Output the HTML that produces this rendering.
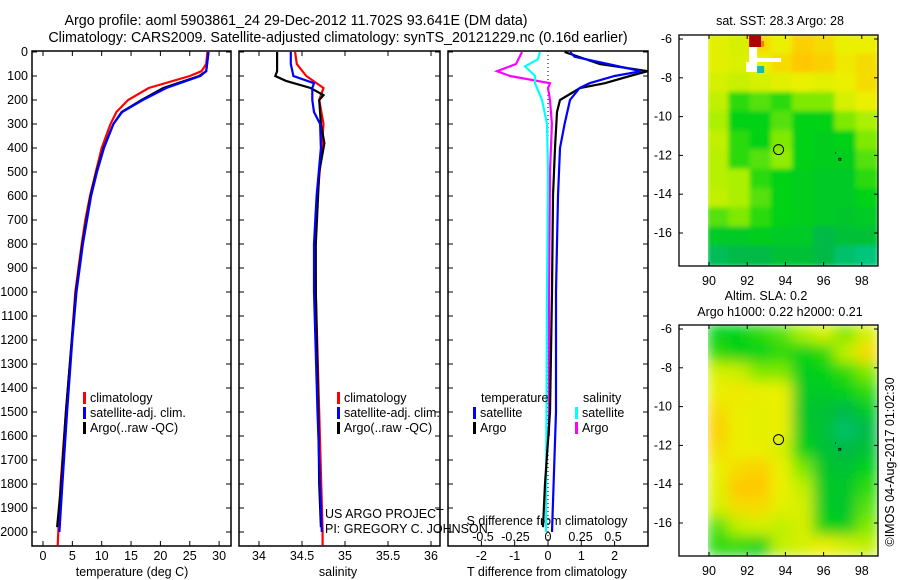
<!DOCTYPE html>
<html><head><meta charset="utf-8"><style>
body{margin:0;background:#fff;width:900px;height:580px;overflow:hidden}
svg{display:block;font-family:"Liberation Sans",sans-serif}
text{font-size:12.5px;fill:#000}
</style></head><body>
<svg id="s" width="900" height="580" viewBox="0 0 900 580">
<defs>
<filter id="bl" x="0" y="0" width="1" height="1"><feGaussianBlur stdDeviation="2.5"/></filter>
<filter id="bl2" x="0" y="0" width="1" height="1"><feGaussianBlur stdDeviation="7"/></filter>
<clipPath id="c1"><rect x="708" y="35" width="170" height="231"/></clipPath>
<clipPath id="c2"><rect x="708" y="325" width="170" height="231"/></clipPath>
</defs>
<text x="296" y="25" text-anchor="middle" style="font-size:14.3px">Argo profile: aoml 5903861_24 29-Dec-2012 11.702S 93.641E (DM data)</text>
<text x="338" y="42" text-anchor="middle" style="font-size:14.3px">Climatology: CARS2009. Satellite-adjusted climatology: synTS_20121229.nc (0.16d earlier)</text>
<g id="g"></g>
</svg>
<script>
const depthTicks=[0,100,200,300,400,500,600,700,800,900,1000,1100,1200,1300,1400,1500,1600,1700,1800,1900,2000];
const tTicks=[0,5,10,15,20,25,30];
const sTicks=[34,34.5,35,35.5,36];
const sTickLabels=["34","34.5","35","35.5","36"];
const dTTicks=[-2,-1,0,1,2];
const dSTicks=[-0.5,-0.25,0,0.25,0.5];
const dSTickLabels=["-0.5","-0.25","0","0.25","0.5"];
// temperature profiles
const climTD=[0,50,80,100,150,200,250,300,400,500,600,700,800,1000,1200,1500,1800,2000,2055];
const climT=[28,27.8,27,25,18,14.5,12.5,11.5,10,9,8,7.2,6.6,5.5,4.9,3.9,3.0,2.6,2.5];
const satTD=[0,80,100,150,200,250,300,400,500,600,800,1000,1200,1500,1800,2000];
const satT=[28.2,27.8,26.8,21,17,13.5,12,10.4,9.2,8.2,6.8,5.7,5.0,4.1,3.3,2.8];
const argoTD=[0,80,100,150,200,250,300,400,500,600,800,1000,1200,1500,1800,1980];
const argoT=[28.2,27.8,26.6,20.5,16.8,13.4,12,10.3,9.1,8.1,6.7,5.6,4.9,3.9,3.1,2.4];
// salinity profiles
const climSD=[0,50,100,150,200,300,400,600,800,1000,1500,2000,2055];
const climS=[34.42,34.44,34.55,34.75,34.7,34.75,34.73,34.68,34.65,34.66,34.7,34.74,34.74];
const satSD=[0,50,100,130,150,200,250,300,400,600,800,1000,1500,2000];
const satS=[34.37,34.37,34.4,34.64,34.62,34.62,34.64,34.71,34.72,34.67,34.64,34.64,34.68,34.73];
const argoSD=[0,80,100,120,150,180,200,300,380,500,800,1000,1500,1800,1980];
const argoS=[34.21,34.21,34.19,34.31,34.6,34.75,34.7,34.72,34.76,34.7,34.66,34.66,34.69,34.7,34.72];
// difference profiles
const dTsatD=[0,20,50,80,100,130,150,200,300,400,600,1000,1500,2000];
const dTsat=[0.66,0.8,1.8,2.8,2.0,1.25,0.95,0.66,0.5,0.36,0.3,0.24,0.24,0.12];
const dTargoD=[0,50,80,100,130,150,200,250,400,600,1000,1500,1800,1980];
const dTargo=[0.5,1.56,3.0,2.46,1.71,0.96,0.36,0.27,0.21,0.15,0.12,0.06,-0.09,-0.15];
const dSargoD=[0,50,80,100,130,150,200,300,500,1000,1600];
const dSargo=[-0.2,-0.246,-0.392,-0.292,0.015,0,0.015,0.03,0.015,0.008,0.008];
const dSsatD=[0,30,60,100,130,200,300,500,1000,2000];
const dSsat=[-0.062,-0.077,-0.177,-0.1,-0.1,-0.046,-0.008,0,-0.008,-0.015];
// maps (0=teal .. 1=red)
const sstGrid=[
[.78,.75,.85,.8,.88,.85,.8,.8],[.78,.76,.8,.85,.9,.88,.82,.85],[.75,.72,.75,.78,.8,.78,.8,.85],
[.7,.5,.55,.5,.6,.6,.75,.8],[.65,.45,.45,.55,.45,.45,.6,.65],[.7,.5,.45,.6,.45,.42,.45,.6],
[.68,.5,.55,.62,.45,.42,.42,.55],[.68,.65,.5,.45,.42,.4,.4,.5],[.7,.65,.55,.45,.42,.4,.4,.45],
[.55,.6,.5,.45,.42,.4,.38,.4],[.4,.4,.42,.4,.4,.3,.35,.35],[.25,.3,.3,.35,.35,.3,.2,.15]];
const slaGrid=[
[.45,.45,.5,.55,.65,.75,.6,.75],[.5,.45,.45,.5,.45,.5,.7,.85],[.75,.72,.6,.6,.42,.45,.5,.6],
[.8,.82,.8,.8,.4,.4,.45,.5],[.85,.8,.78,.8,.38,.35,.3,.4],[.88,.8,.78,.8,.4,.35,.2,.3],
[.85,.8,.8,.75,.45,.35,.3,.35],[.8,.85,.88,.8,.6,.38,.35,.45],[.78,.9,.9,.8,.7,.4,.38,.5],
[.75,.85,.85,.78,.75,.4,.38,.55],[.55,.7,.75,.7,.75,.45,.42,.6],[.5,.5,.45,.7,.75,.8,.75,.7]];
const lonTicks=[90,92,94,96,98];
const latTicks=[-6,-8,-10,-12,-14,-16];
const argoLon=93.641, argoLat=-11.702;

const NS="http://www.w3.org/2000/svg";
const G=document.getElementById('g');
function mk(t,a,p){const e=document.createElementNS(NS,t);for(const k in a)e.setAttribute(k,a[k]);(p||G).appendChild(e);return e;}
const yD=d=>52+d*0.24;
const xT=v=>43+v*5.87;
const xS=v=>259+(v-34)*86;
const xdT=v=>548+v*33.3;
const xdS=v=>548+v*130;
const TOP=51,BOT=546;

function box(x0,x1,name){const r=mk('rect',{x:x0,y:TOP,width:x1-x0,height:BOT-TOP,fill:'none',stroke:'#000','stroke-width':1.5});

depthTicks.forEach(d=>{mk('line',{x1:x0,x2:x0+5,y1:yD(d),y2:yD(d),stroke:'#000'});mk('line',{x1:x1-5,x2:x1,y1:yD(d),y2:yD(d),stroke:'#000'});});}
function line(ds,vs,fx,col,name,w){const pts=ds.map((d,i)=>fx(vs[i]).toFixed(1)+','+yD(d).toFixed(1)).join(' ');
const p=mk('polyline',{points:pts,fill:'none',stroke:col,'stroke-width':w||2.2});
}
function txt(x,y,s,anchor,name,extra){const t=mk('text',Object.assign({x:x,y:y,'text-anchor':anchor||'start'},extra||{}));t.textContent=s;
return t;}
function xticks(vals,labels,fx,y,name,tickTop){vals.forEach((v,i)=>{mk('line',{x1:fx(v),x2:fx(v),y1:BOT,y2:BOT-5,stroke:'#000'});if(tickTop)mk('line',{x1:fx(v),x2:fx(v),y1:TOP,y2:TOP+5,stroke:'#000'});
txt(fx(v),y,labels[i],'middle',name);});}

// panel 1
box(32,231,'temperature-panel');
depthTicks.forEach(d=>txt(28,yD(d)+4,String(d),'end','depth-tick-label'));
xticks(tTicks,tTicks.map(String),xT,560,'temperature-tick-label',true);
txt(132,576,'temperature (deg C)','middle','temperature-axis-title');
line(climTD,climT,xT,'#f00','climatology-temperature-line');
line(argoTD,argoT,xT,'#000','argo-temperature-line');
line(satTD,satT,xT,'#00f','satellite-temperature-line');
function legend(x,y,items,name){items.forEach((it,i)=>{mk('rect',{x:x,y:y+i*15-10,width:3,height:12,fill:it[0]});txt(x+7,y+i*15,it[1],'start',name);});}
legend(83,402,[['#f00','climatology'],['#00f','satellite-adj. clim.'],['#000','Argo(..raw -QC)']],'profile-legend-entry');

// panel 2
box(239,440,'salinity-panel');
xticks(sTicks,sTickLabels,xS,560,'salinity-tick-label',true);
txt(338,576,'salinity','middle','salinity-axis-title');
line(climSD,climS,xS,'#f00','climatology-salinity-line');
line(argoSD,argoS,xS,'#000','argo-salinity-line');
line(satSD,satS,xS,'#00f','satellite-salinity-line');
legend(337,402,[['#f00','climatology'],['#00f','satellite-adj. clim.'],['#000','Argo(..raw -QC)']],'salinity-legend-entry');
txt(325,518,'US ARGO PROJECT','start','project-credit');
txt(325,533,'PI: GREGORY C. JOHNSON','start','pi-credit');

// panel 3
box(448,648,'difference-panel');
mk('line',{x1:548,x2:548,y1:TOP,y2:BOT,stroke:'#000','stroke-dasharray':'1,3'});
xticks(dTTicks,dTTicks.map(String),xdT,560,'t-diff-tick-label',false);
dSTicks.forEach((v,i)=>txt(xdS(v),541,dSTickLabels[i],'middle','s-diff-tick-label'));
txt(547,525,'S difference from climatology','middle','s-diff-axis-title');
txt(547,576,'T difference from climatology','middle','t-diff-axis-title');
line(dSargoD,dSargo,xdS,'#f0f','argo-salinity-diff-line');
line(dSsatD,dSsat,xdS,'#0ff','satellite-salinity-diff-line');
line(dTargoD,dTargo,xdT,'#000','argo-temperature-diff-line');
line(dTsatD,dTsat,xdT,'#00f','satellite-temperature-diff-line');
txt(481,402,'temperature','start','diff-legend-heading');
txt(583,402,'salinity','start','diff-legend-heading');
legend(473,417,[['#00f','satellite'],['#000','Argo']],'diff-legend-entry');
legend(575,417,[['#0ff','satellite'],['#f0f','Argo']],'diff-legend-entry');

// maps
const stops=[[0,[0,210,180]],[0.3,[0,185,70]],[0.45,[0,210,20]],[0.65,[170,240,0]],[0.8,[235,240,0]],[0.9,[255,200,0]],[1,[200,0,0]]];
function cmap(v){for(let i=1;i<stops.length;i++){if(v<=stops[i][0]){const a=stops[i-1],b=stops[i],f=(v-a[0])/(b[0]-a[0]);
return 'rgb('+a[1].map((c,k)=>Math.round(c+(b[1][k]-c)*f)).join(',')+')';}}return 'rgb(200,0,0)';}
function map(y0,grid,clip,filt,name){
const lx=lon=>709+(lon-90)*19.1, ly=lat=>y0+4+(-6-lat)*19.4;
const g=mk('g',{'clip-path':'url(#'+clip+')'});const gi=mk('g',{filter:'url(#'+filt+')'},g);
mk('rect',{x:708,y:y0,width:170,height:231,fill:cmap(0.5)},gi);
grid.forEach((row,r)=>row.forEach((v,c)=>{const cell=mk('rect',{x:708+c*21.25-1,y:y0+r*19.25-1,width:23,height:21,fill:cmap(v)},gi);

}));
const b=mk('rect',{x:679,y:y0,width:199,height:231,fill:'none',stroke:'#000','stroke-width':1.3});

lonTicks.forEach(l=>{mk('line',{x1:lx(l),x2:lx(l),y1:y0,y2:y0+4,stroke:'#000'});mk('line',{x1:lx(l),x2:lx(l),y1:y0+231,y2:y0+227,stroke:'#000'});txt(lx(l),y0+250,String(l),'middle','map-lon-label');});
latTicks.forEach(l=>{mk('line',{x1:679,x2:683,y1:ly(l),y2:ly(l),stroke:'#000'});mk('line',{x1:874,x2:878,y1:ly(l),y2:ly(l),stroke:'#000'});txt(672,ly(l)+4,String(l),'end','map-lat-label');});
const c=mk('circle',{cx:lx(argoLon),cy:ly(argoLat),r:5,fill:'none',stroke:'#000','stroke-width':1});

mk('rect',{x:lx(96.85)-1,y:ly(-12.2)-1,width:2,height:2,fill:'none',stroke:'#000','stroke-width':0.8});
mk('rect',{x:lx(96.6),y:ly(-11.85),width:1,height:1,fill:'#000'});
return {lx,ly};}
const m1=map(35,sstGrid,'c1','bl','sst-map');
mk('rect',{x:m1.lx(92.1),y:35,width:12,height:12,fill:'#b00000'});
mk('rect',{x:m1.lx(92.1)+12,y:41,width:3,height:6,fill:'#f08000'});
mk('rect',{x:m1.lx(92.1),y:47,width:8,height:25,fill:'#fff'});
mk('rect',{x:m1.lx(92.1)+8,y:58,width:24,height:4,fill:'#fff'});
mk('rect',{x:m1.lx(92.1)-3,y:62,width:7,height:10,fill:'#fff'});
mk('rect',{x:m1.lx(92.1)+8,y:66,width:7,height:7,fill:'#10c0a0'});
txt(780,25,'sat. SST: 28.3 Argo: 28','middle','sst-map-title');
map(325,slaGrid,'c2','bl2','sla-map');
txt(766,300,'Altim. SLA: 0.2','middle','sla-map-title');
txt(780,316,'Argo h1000: 0.22 h2000: 0.21','middle','sla-map-subtitle');
txt(0,0,'©IMOS 04-Aug-2017 01:02:30','middle','timestamp-credit',{transform:'translate(894,462) rotate(-90)'});
</script>
</body></html>
